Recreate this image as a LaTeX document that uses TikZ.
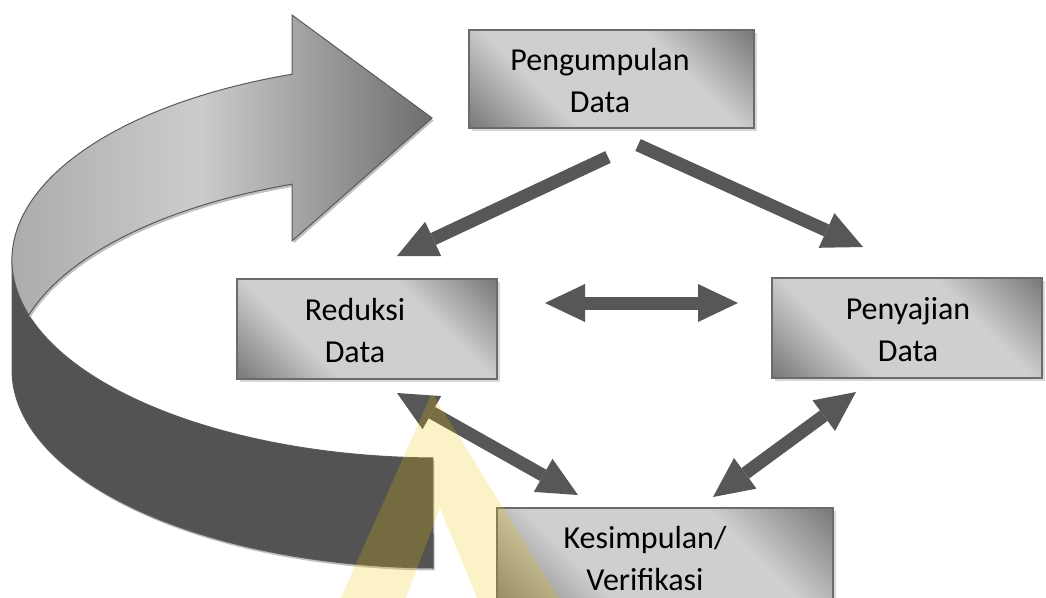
\documentclass[tikz,border=0pt]{standalone}
\usepackage{fontspec}
\setmainfont{Carlito}
\usetikzlibrary{arrows.meta,shadows}

\definecolor{arrowgray}{HTML}{575757}
\definecolor{boxline}{HTML}{6B6B6B}
\definecolor{boxdark}{HTML}{646464}
\definecolor{boxlight}{HTML}{CFCFCF}
\definecolor{bandgray}{HTML}{535353}
\definecolor{bandline}{HTML}{5A5A5A}
\definecolor{faceleft}{HTML}{A4A4A4}
\definecolor{facelight}{HTML}{CCCCCC}
\definecolor{facedark}{HTML}{6E6E6E}
\definecolor{wmyellow}{HTML}{F2C200}

\pgfdeclareverticalshading{boxshade}{100bp}{color(0bp)=(boxdark); color(10bp)=(boxdark);
    color(35bp)=(boxlight); color(65bp)=(boxlight); color(90bp)=(boxdark); color(100bp)=(boxdark)}

\begin{document}
\begin{tikzpicture}[x=1pt, y=-1pt,
    box/.style={rectangle, draw=boxline, line width=1.8pt, inner sep=0pt,
        shading=boxshade, shading angle=-45,
        drop shadow={shadow xshift=2.5pt, shadow yshift=-2.5pt, fill=black!30}},
    boxtext/.style={align=center, inner sep=0pt, font=\fontsize{32}{42}\selectfont},
    onearrow/.style={draw=arrowgray, line width=13pt,
        -{Triangle[length=40pt, width=38pt, line width=0pt]}},
    twoarrow/.style={draw=arrowgray, line width=13pt,
        {Triangle[length=40pt, width=38pt, line width=0pt]}-{Triangle[length=40pt, width=38pt, line width=0pt]}},
    ringshadow/.style={preaction={fill=black!25, transform canvas={xshift=1.5pt, yshift=-2.5pt}}}]
    \useasboundingbox (0,0) rectangle (1046,597);
    \clip (0,0) rectangle (1046,597);

    % big curved arrow
    \path[ringshadow, fill=bandgray, draw=bandline, line width=1pt]
        (12,260) arc[start angle=180, end angle=90.94, x radius=428, y radius=198]
        -- (433,568) arc[start angle=90.94, end angle=180, x radius=428, y radius=198] -- cycle;
    \path[ringshadow, left color=faceleft, right color=facedark, middle color=facelight, draw=bandline, line width=1pt]
        (292,74.2) arc[start angle=-110.23, end angle=-196.13, x radius=428, y radius=198]
        arc[start angle=-163.87, end angle=-110.23, x radius=428, y radius=198]
        -- (292,241) -- (432,118) -- (292,15) -- cycle;

    % boxes
    \node[box, minimum width=285pt, minimum height=98pt] (pd) at (611.5,79) {};
    \node[box, minimum width=260pt, minimum height=100pt] (rd) at (367,329) {};
    \node[box, minimum width=270pt, minimum height=100pt] (sd) at (907,328) {};
    \node[box, minimum width=336pt, minimum height=100pt] (kv) at (665,558) {};
    \node[boxtext] (pdtext) at (600,81) {Pengumpulan\\Data};
    \node[boxtext] (rdtext) at (355,331) {Reduksi\\Data};
    \node[boxtext] (sdtext) at (908,330) {Penyajian\\Data};
    \node[boxtext] (kvtext) at (645,558) {Kesimpulan/\\Verifikasi};

    % arrows
    \coordinate (pd1) at (608,157);
    \coordinate (pd2) at (638,145);
    \coordinate (rd1) at (397,256);
    \coordinate (rd2) at (545,303);
    \coordinate (rd3) at (397,393);
    \coordinate (sd1) at (863,247);
    \coordinate (sd2) at (738,303);
    \coordinate (sd3) at (856,392);
    \coordinate (kv1) at (578,495);
    \coordinate (kv2) at (713,497);
    \foreach \a/\b in {pd1/rd1, pd2/sd1}
        \draw[onearrow] (\a) -- (\b);
    \foreach \a/\b in {rd2/sd2, rd3/kv1, kv2/sd3}
        \draw[twoarrow] (\a) -- (\b);

    % watermark
    \fill[wmyellow, opacity=0.22, even odd rule]
        (432,393) -- (560,600) -- (340,600) -- cycle
        (440,508) -- (478,600) -- (405,600) -- cycle;
\end{tikzpicture}
\end{document}
